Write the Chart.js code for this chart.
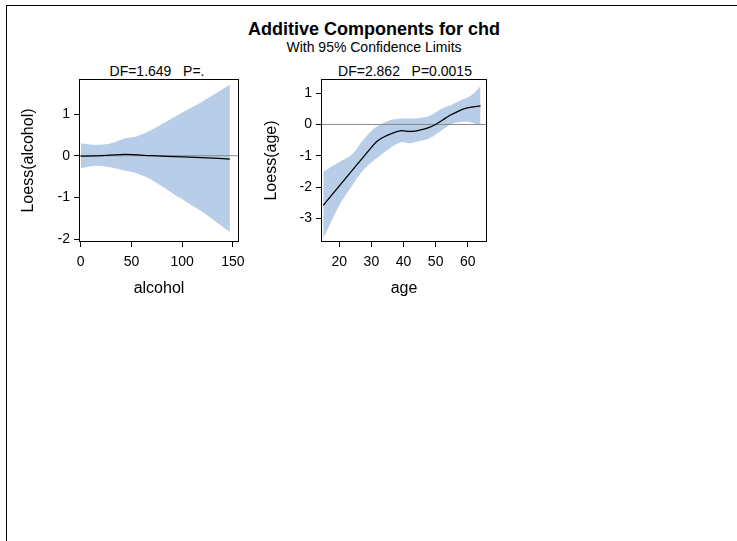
<!DOCTYPE html>
<html>
<head>
<meta charset="utf-8">
<script src="https://cdn.jsdelivr.net/npm/chart.js@4.4.1/dist/chart.umd.min.js"></script>
<style>
  body { margin: 0; background: #fff; font-family: "Liberation Sans", Arial, sans-serif; }
  #frame { position: absolute; left: 6px; top: 5px; width: 800px; height: 600px; border: 1px solid #000; }
  .txt { position: absolute; white-space: nowrap; transform: translate(-50%, -50%); color: #000; }
  canvas { position: absolute; }
</style>
</head>
<body>
<div id="frame"></div>
<div class="txt" style="left:374px; top:29px; font-size:18px; font-weight:bold;">Additive Components for chd</div>
<div class="txt" style="left:374px; top:47px; font-size:14px;">With 95% Confidence Limits</div>
<div class="txt" style="left:157px; top:71px; font-size:14px;">DF=1.649&nbsp;&nbsp;&nbsp;P=.</div>
<div class="txt" style="left:405px; top:71px; font-size:14px;">DF=2.862&nbsp;&nbsp;&nbsp;P=0.0015</div>
<canvas id="alcChart" width="236" height="236" style="left:14px; top:74px;"></canvas>
<canvas id="ageChart" width="240" height="236" style="left:258px; top:74px;"></canvas>
<script>
// alcohol component
const alcBandX = [0, 15, 30, 44, 55, 70, 93, 120, 147];
const alcUpper = [0.30, 0.26, 0.30, 0.42, 0.46, 0.62, 0.94, 1.30, 1.70];
const alcLower = [-0.30, -0.24, -0.28, -0.36, -0.42, -0.58, -0.94, -1.35, -1.83];
const alcX = [0, 20, 44, 70, 100, 125, 147];
const alcFit = [-0.01, 0.00, 0.03, 0.00, -0.03, -0.05, -0.08];
const alcXTicks = [0, 50, 100, 150];
const alcYTicks = [-2, -1, 0, 1];

// age component
const ageBandX = [15, 20, 24, 27, 31, 36, 39.5, 42, 44, 48, 52, 55, 58, 61, 64];
const ageUpper = [-1.51, -1.20, -0.95, -0.55, -0.11, 0.14, 0.19, 0.19, 0.19, 0.27, 0.51, 0.63, 0.78, 0.92, 1.23];
const ageLower = [-3.64, -2.58, -1.95, -1.51, -1.13, -0.74, -0.56, -0.60, -0.55, -0.45, -0.18, 0.02, 0.08, 0.07, -0.04];
const ageX = [15, 31, 33, 36.2, 39.3, 41.5, 43.7, 46, 47.8, 50, 52.3, 54.6, 57, 59.3, 61.7, 64];
const ageFit = [-2.58, -0.61, -0.45, -0.29, -0.20, -0.22, -0.21, -0.16, -0.10, 0.00, 0.15, 0.30, 0.42, 0.51, 0.56, 0.59];
const ageXTicks = [20, 30, 40, 50, 60];
const ageYTicks = [-3, -2, -1, 0, 1];

const bandColor = '#b8cde8';
const font = 'Liberation Sans, Arial, sans-serif';

const framePlugin = {
    id: 'frame',
    afterDatasetsDraw(chart) {
        const a = chart.chartArea;
        const ctx = chart.ctx;
        ctx.save();
        ctx.strokeStyle = '#000';
        ctx.lineWidth = 1;
        ctx.strokeRect(Math.round(a.left) + 0.5, Math.round(a.top) + 0.5,
            Math.round(a.right - a.left) - 1, Math.round(a.bottom - a.top) - 1);
        ctx.restore();
    }
};

function pts(xs, ys) {
    return xs.map((x, i) => ({ x: x, y: ys[i] }));
}

// drop the label overhang padding so the plot box sits where the layout padding says
function noOverhang(axis) {
    axis.paddingTop = 0;
    axis.paddingBottom = 0;
    axis.paddingLeft = 0;
    axis.paddingRight = 0;
}

function makeChart(id, cfg) {
    const ctx = document.getElementById(id).getContext('2d');
    return new Chart(ctx, {
        type: 'line',
        data: {
            datasets: [
                { data: pts(cfg.fitX, cfg.fit), borderColor: '#000', borderWidth: 1.3, pointRadius: 0, tension: 0.2, fill: false, order: 0 },
                { data: [{ x: cfg.xMin, y: 0 }, { x: cfg.xMax, y: 0 }], borderColor: '#888', borderWidth: 1, pointRadius: 0, fill: false, order: 1 },
                { data: pts(cfg.bandX, cfg.upper), borderWidth: 0, borderColor: 'rgba(0,0,0,0)', backgroundColor: bandColor, pointRadius: 0, tension: 0.3, fill: '+1', order: 2 },
                { data: pts(cfg.bandX, cfg.lower), borderWidth: 0, borderColor: 'rgba(0,0,0,0)', pointRadius: 0, tension: 0.3, fill: false, order: 3 }
            ]
        },
        options: {
            responsive: false,
            animation: false,
            layout: { padding: { top: 5, right: 11, left: 0, bottom: 0 } },
            plugins: { legend: { display: false }, tooltip: { enabled: false } },
            scales: {
                x: {
                    type: 'linear',
                    min: cfg.xMin,
                    max: cfg.xMax,
                    afterBuildTicks: axis => { axis.ticks = cfg.xTicks.map(v => ({ value: v })); },
                    afterFit: axis => { axis.height = 68; noOverhang(axis); },
                    grid: { drawOnChartArea: false, drawTicks: true, tickLength: 5, color: '#000' },
                    border: { display: false },
                    ticks: { color: '#000', padding: 7, font: { family: font, size: 14 }, maxRotation: 0 },
                    title: { display: true, text: cfg.xTitle, color: '#000', font: { family: font, size: 16 }, padding: { top: 0, bottom: 12 } }
                },
                y: {
                    min: cfg.yMin,
                    max: cfg.yMax,
                    afterBuildTicks: axis => { axis.ticks = cfg.yTicks.map(v => ({ value: v })); },
                    afterFit: axis => { axis.width = cfg.yWidth; noOverhang(axis); },
                    grid: { drawOnChartArea: false, drawTicks: true, tickLength: 5, color: '#000' },
                    border: { display: false },
                    ticks: { color: '#000', padding: 4, font: { family: font, size: 14 } },
                    title: { display: true, text: cfg.yTitle, color: '#000', font: { family: font, size: 16 }, padding: { top: cfg.yTitlePad, bottom: 0 } }
                }
            }
        },
        plugins: [framePlugin]
    });
}

makeChart('alcChart', {
    bandX: alcBandX, upper: alcUpper, lower: alcLower, fitX: alcX, fit: alcFit,
    xMin: -1.7, xMax: 156, yMin: -2.07, yMax: 1.84,
    xTicks: alcXTicks, yTicks: alcYTicks,
    xTitle: 'alcohol', yTitle: 'Loess(alcohol)', yWidth: 65, yTitlePad: 5
});

makeChart('ageChart', {
    bandX: ageBandX, upper: ageUpper, lower: ageLower, fitX: ageX, fit: ageFit,
    xMin: 14.3, xMax: 66, yMin: -3.75, yMax: 1.45,
    xTicks: ageXTicks, yTicks: ageYTicks,
    xTitle: 'age', yTitle: 'Loess(age)', yWidth: 63, yTitlePad: 4
});
</script>
</body>
</html>
